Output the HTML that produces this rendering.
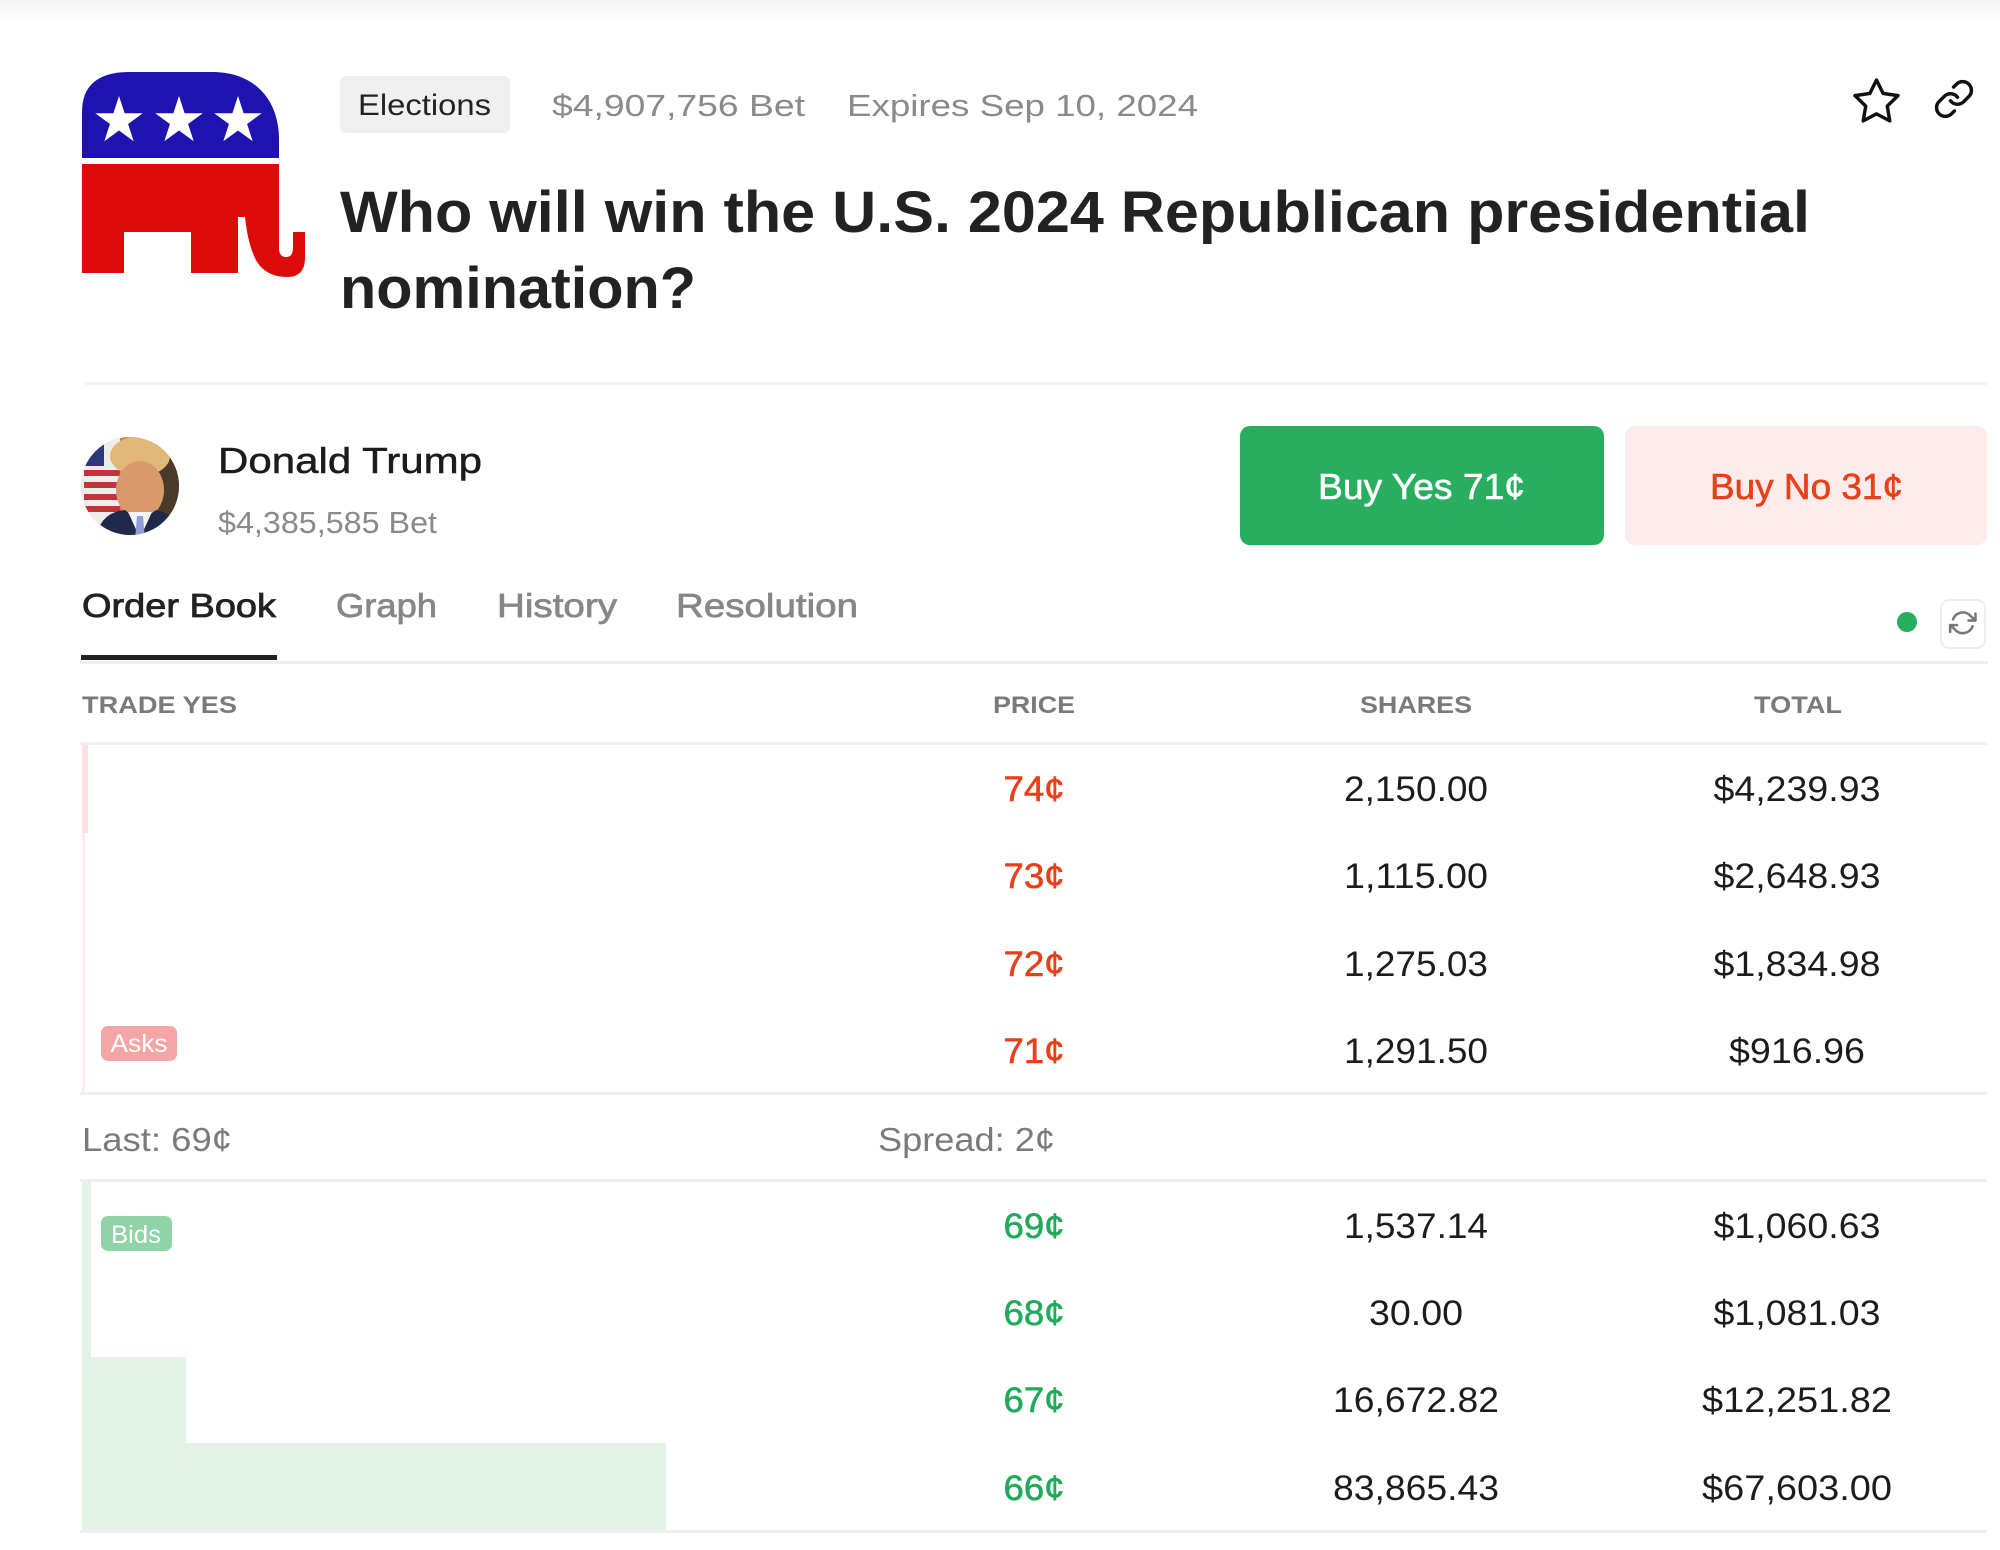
<!DOCTYPE html>
<html>
<head>
<meta charset="utf-8">
<style>
  html,body{margin:0;padding:0;background:#fff;}
  body{width:2000px;height:1550px;overflow:hidden;}
  svg{display:block;}
  text{font-family:"Liberation Sans", Arial, sans-serif;}
</style>
</head>
<body>
<svg width="2000" height="1550" viewBox="0 0 2000 1550" xmlns="http://www.w3.org/2000/svg">
  <defs>
    <linearGradient id="topg" x1="0" y1="0" x2="0" y2="1">
      <stop offset="0" stop-color="#f6f6f6"/>
      <stop offset="1" stop-color="#ffffff"/>
    </linearGradient>
    <polygon id="st" points="0,-25 5.61,-7.73 23.78,-7.73 9.08,2.95 14.69,20.23 0,9.55 -14.69,20.23 -9.08,2.95 -23.78,-7.73 -5.61,-7.73" fill="#ffffff"/>
    <clipPath id="av"><circle cx="130" cy="486" r="49"/></clipPath>
  </defs>

  <rect x="0" y="0" width="2000" height="1550" fill="#ffffff"/>
  <rect x="0" y="0" width="2000" height="26" fill="url(#topg)"/>

  <!-- Elephant logo -->
  <path d="M82,158 V112 Q82,72 130,72 H212 C255,72 279,100 279,140 V158 Z" fill="#1e13b0"/>
  <use href="#st" transform="translate(119,121)"/>
  <use href="#st" transform="translate(179,121)"/>
  <use href="#st" transform="translate(238,121)"/>
  <path d="M82,164 H279 V248 Q279,257 286,257 Q293,257 293,248 V232 H305 V258 Q305,277 287,277 Q267,277 257,262 Q248,246 245,217 H238 V273 H191 V232 H124 V273 H82 Z" fill="#dd0a0a"/>

  <!-- Meta row -->
  <rect x="340" y="76" width="170" height="57" rx="6" fill="#f0f0f0"/>
  <text x="358" y="115" font-size="30" fill="#222" textLength="133" lengthAdjust="spacingAndGlyphs">Elections</text>
  <text x="552" y="116" font-size="31" fill="#8a8a8a" textLength="253" lengthAdjust="spacingAndGlyphs">$4,907,756 Bet</text>
  <text x="847" y="116" font-size="31" fill="#8a8a8a" textLength="351" lengthAdjust="spacingAndGlyphs">Expires Sep 10, 2024</text>

  <!-- Star icon -->
  <g transform="translate(1850.7,75.7) scale(2.15)" fill="none" stroke="#111" stroke-width="1.6" stroke-linejoin="round" stroke-linecap="round">
    <polygon points="12 2 15.09 8.26 22 9.27 17 14.14 18.18 21.02 12 17.77 5.82 21.02 7 14.14 2 9.27 8.91 8.26 12 2"/>
  </g>
  <!-- Link icon -->
  <g transform="translate(1933,78) scale(1.75)" fill="none" stroke="#111" stroke-width="2" stroke-linecap="round" stroke-linejoin="round">
    <path d="M10 13a5 5 0 0 0 7.54.54l3-3a5 5 0 0 0-7.07-7.07l-1.72 1.71"/>
    <path d="M14 11a5 5 0 0 0-7.54-.54l-3 3a5 5 0 0 0 7.07 7.07l1.71-1.71"/>
  </g>

  <!-- Title -->
  <text x="340" y="232" font-size="58" font-weight="bold" fill="#222" textLength="1470" lengthAdjust="spacingAndGlyphs">Who will win the U.S. 2024 Republican presidential</text>
  <text x="340" y="308" font-size="58" font-weight="bold" fill="#222" textLength="356" lengthAdjust="spacingAndGlyphs">nomination?</text>

  <rect x="85" y="382" width="1902" height="3" fill="#f2f2f2"/>

  <!-- Avatar -->
  <g clip-path="url(#av)">
    <rect x="80" y="436" width="100" height="100" fill="#b98b52"/>
    <rect x="80" y="436" width="40" height="100" fill="#f1ecea"/>
    <rect x="80" y="436" width="24" height="30" fill="#2b3a78"/>
    <rect x="84" y="470" width="36" height="6" fill="#c8303a"/>
    <rect x="84" y="482" width="36" height="6" fill="#c8303a"/>
    <rect x="84" y="494" width="36" height="6" fill="#c8303a"/>
    <rect x="84" y="506" width="36" height="6" fill="#c8303a"/>
    <rect x="150" y="436" width="30" height="100" fill="#4a3a2a"/>
    <ellipse cx="140" cy="456" rx="30" ry="20" fill="#e2b878"/>
    <ellipse cx="140" cy="490" rx="24" ry="29" fill="#d89a6c"/>
    <path d="M95,540 Q100,512 125,510 L140,522 L156,510 Q178,514 182,540 Z" fill="#1f2a4a"/>
    <path d="M128,512 L140,538 L152,512 Z" fill="#f4f4f6"/>
    <path d="M137,516 L143,516 L145,540 L135,540 Z" fill="#8fa0d6"/>
  </g>

  <!-- Candidate -->
  <text x="218" y="473" font-size="36" fill="#1c1c1c" stroke="#1c1c1c" stroke-width="0.5" textLength="264" lengthAdjust="spacingAndGlyphs">Donald Trump</text>
  <text x="218" y="533" font-size="31" fill="#8a8a8a" textLength="219" lengthAdjust="spacingAndGlyphs">$4,385,585 Bet</text>

  <!-- Buttons -->
  <rect x="1240" y="426" width="364" height="119" rx="10" fill="#29ae60"/>
  <text x="1318" y="499" font-size="36" fill="#ffffff" stroke="#ffffff" stroke-width="0.6" textLength="207" lengthAdjust="spacingAndGlyphs">Buy Yes 71¢</text>
  <rect x="1625" y="426" width="362" height="119" rx="10" fill="#fdeceb"/>
  <text x="1710" y="499" font-size="36" fill="#e8401a" stroke="#e8401a" stroke-width="0.6" textLength="193" lengthAdjust="spacingAndGlyphs">Buy No 31¢</text>

  <!-- Tabs -->
  <text x="82" y="617" font-size="33" fill="#222" stroke="#222" stroke-width="0.8" textLength="194" lengthAdjust="spacingAndGlyphs">Order Book</text>
  <text x="336" y="617" font-size="33" fill="#878787" stroke="#878787" stroke-width="0.7" textLength="101" lengthAdjust="spacingAndGlyphs">Graph</text>
  <text x="497" y="617" font-size="33" fill="#878787" stroke="#878787" stroke-width="0.7" textLength="120" lengthAdjust="spacingAndGlyphs">History</text>
  <text x="676" y="617" font-size="33" fill="#878787" stroke="#878787" stroke-width="0.7" textLength="182" lengthAdjust="spacingAndGlyphs">Resolution</text>
  <rect x="80" y="661" width="1908" height="3" fill="#efefef"/>
  <rect x="81" y="655" width="196" height="5" fill="#222"/>

  <circle cx="1907" cy="622" r="10" fill="#27ae60"/>
  <rect x="1941" y="600" width="44" height="48" rx="8" fill="#ffffff" stroke="#eeeeee" stroke-width="2"/>
  <g transform="translate(1949,609) scale(1.15)" fill="none" stroke="#777" stroke-width="2.2" stroke-linecap="round" stroke-linejoin="round">
    <polyline points="23 4 23 10 17 10"/>
    <polyline points="1 20 1 14 7 14"/>
    <path d="M3.51 9a9 9 0 0 1 14.85-3.36L23 10M1 14l4.64 4.36A9 9 0 0 0 20.49 15"/>
  </g>

  <!-- Table header -->
  <text x="82" y="713" font-size="24" font-weight="bold" fill="#7a7a7a" textLength="155" lengthAdjust="spacingAndGlyphs">TRADE YES</text>
  <text x="1034" y="713" font-size="24" font-weight="bold" fill="#7a7a7a" text-anchor="middle" textLength="82" lengthAdjust="spacingAndGlyphs">PRICE</text>
  <text x="1416" y="713" font-size="24" font-weight="bold" fill="#7a7a7a" text-anchor="middle" textLength="112" lengthAdjust="spacingAndGlyphs">SHARES</text>
  <text x="1798" y="713" font-size="24" font-weight="bold" fill="#7a7a7a" text-anchor="middle" textLength="88" lengthAdjust="spacingAndGlyphs">TOTAL</text>
  <rect x="80" y="742" width="1907" height="3" fill="#f0f0f0"/>

  <!-- Asks depth -->
  <rect x="82" y="745" width="6" height="88" fill="#fde0e0"/>
  <rect x="82" y="833" width="3" height="260" fill="#fdecec"/>

  <!-- Asks rows -->
  <g font-size="35" fill="#e8401a" stroke="#e8401a" stroke-width="0.6" text-anchor="middle">
    <text x="1034" y="801" textLength="61" lengthAdjust="spacingAndGlyphs">74¢</text>
    <text x="1034" y="888" textLength="61" lengthAdjust="spacingAndGlyphs">73¢</text>
    <text x="1034" y="976" textLength="61" lengthAdjust="spacingAndGlyphs">72¢</text>
    <text x="1034" y="1063" textLength="61" lengthAdjust="spacingAndGlyphs">71¢</text>
  </g>
  <g font-size="35" fill="#1c1c1c" text-anchor="middle">
    <text x="1416" y="801" textLength="144" lengthAdjust="spacingAndGlyphs">2,150.00</text>
    <text x="1416" y="888" textLength="144" lengthAdjust="spacingAndGlyphs">1,115.00</text>
    <text x="1416" y="976" textLength="144" lengthAdjust="spacingAndGlyphs">1,275.03</text>
    <text x="1416" y="1063" textLength="144" lengthAdjust="spacingAndGlyphs">1,291.50</text>
    <text x="1797" y="801" textLength="167" lengthAdjust="spacingAndGlyphs">$4,239.93</text>
    <text x="1797" y="888" textLength="167" lengthAdjust="spacingAndGlyphs">$2,648.93</text>
    <text x="1797" y="976" textLength="167" lengthAdjust="spacingAndGlyphs">$1,834.98</text>
    <text x="1797" y="1063" textLength="136" lengthAdjust="spacingAndGlyphs">$916.96</text>
  </g>
  <rect x="101" y="1026" width="76" height="35" rx="7" fill="#f5a5a5"/>
  <text x="139" y="1052" font-size="25" fill="#ffffff" text-anchor="middle" textLength="57" lengthAdjust="spacingAndGlyphs">Asks</text>
  <rect x="80" y="1092" width="1907" height="3" fill="#f0f0f0"/>

  <!-- Last / Spread -->
  <text x="82" y="1151" font-size="33" fill="#7a7a7a" textLength="150" lengthAdjust="spacingAndGlyphs">Last: 69¢</text>
  <text x="878" y="1151" font-size="33" fill="#7a7a7a" textLength="177" lengthAdjust="spacingAndGlyphs">Spread: 2¢</text>
  <rect x="80" y="1179" width="1907" height="3" fill="#f0f0f0"/>

  <!-- Bids depth -->
  <rect x="82" y="1182" width="9" height="175" fill="#e3f3e8"/>
  <rect x="82" y="1357" width="104" height="86" fill="#e3f3e8"/>
  <rect x="82" y="1443" width="584" height="87" fill="#e3f3e8"/>

  <rect x="101" y="1216" width="71" height="35" rx="7" fill="#8fd3a7"/>
  <text x="136" y="1243" font-size="25" fill="#ffffff" text-anchor="middle" textLength="50" lengthAdjust="spacingAndGlyphs">Bids</text>

  <!-- Bids rows -->
  <g font-size="35" fill="#22aa5c" stroke="#22aa5c" stroke-width="0.6" text-anchor="middle">
    <text x="1034" y="1238" textLength="61" lengthAdjust="spacingAndGlyphs">69¢</text>
    <text x="1034" y="1325" textLength="61" lengthAdjust="spacingAndGlyphs">68¢</text>
    <text x="1034" y="1412" textLength="61" lengthAdjust="spacingAndGlyphs">67¢</text>
    <text x="1034" y="1500" textLength="61" lengthAdjust="spacingAndGlyphs">66¢</text>
  </g>
  <g font-size="35" fill="#1c1c1c" text-anchor="middle">
    <text x="1416" y="1238" textLength="144" lengthAdjust="spacingAndGlyphs">1,537.14</text>
    <text x="1416" y="1325" textLength="94" lengthAdjust="spacingAndGlyphs">30.00</text>
    <text x="1416" y="1412" textLength="166" lengthAdjust="spacingAndGlyphs">16,672.82</text>
    <text x="1416" y="1500" textLength="166" lengthAdjust="spacingAndGlyphs">83,865.43</text>
    <text x="1797" y="1238" textLength="167" lengthAdjust="spacingAndGlyphs">$1,060.63</text>
    <text x="1797" y="1325" textLength="167" lengthAdjust="spacingAndGlyphs">$1,081.03</text>
    <text x="1797" y="1412" textLength="190" lengthAdjust="spacingAndGlyphs">$12,251.82</text>
    <text x="1797" y="1500" textLength="190" lengthAdjust="spacingAndGlyphs">$67,603.00</text>
  </g>
  <rect x="80" y="1530" width="1907" height="3" fill="#f0f0f0"/>
</svg>
</body>
</html>
